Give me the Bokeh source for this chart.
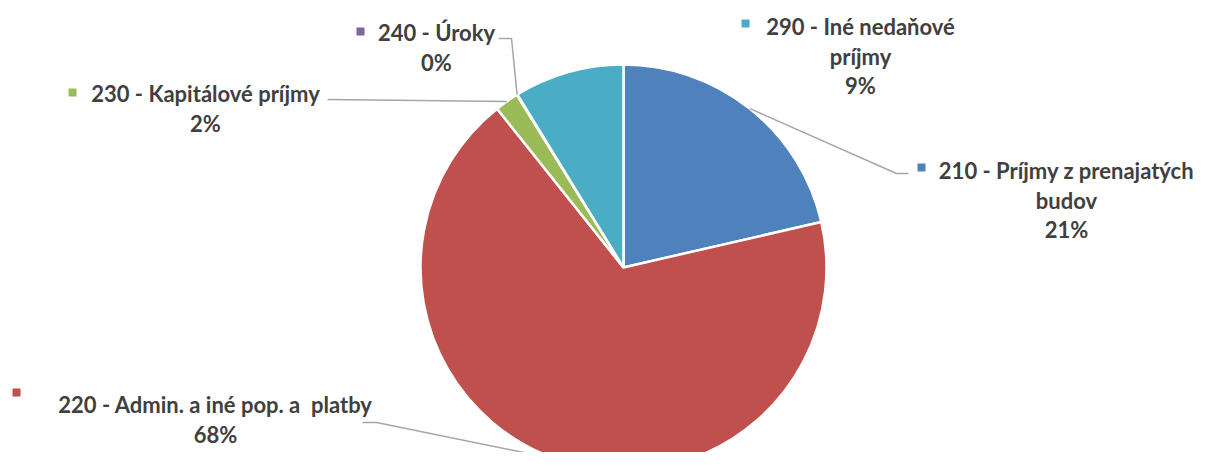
import numpy as np
from bokeh.plotting import figure
from bokeh.models import Range1d, ColumnDataSource
from bokeh.core.properties import value
from bokeh.embed import file_html
from bokeh.resources import INLINE

# ---- data ----
codes = ["210", "220", "230", "240", "290"]
names = ["Príjmy z prenajatých budov", "Admin. a iné pop. a  platby",
         "Kapitálové príjmy", "Úroky", "Iné nedaňové príjmy"]
shares = [21.4, 67.9, 1.9, 0.04, 8.76]
colors = ["#4F81BD", "#C0504D", "#9BBB59", "#8064A2", "#4BACC6"]

# ---- layout (reference pixel coordinates) ----
W, H = 1194, 452
CX, CY, R = 623, 267, 203
FONT = "Lato"
FSIZE = 22
LINE_GAP = 29.5
layout = [
    dict(cx=1066, y0=170, marker=(921, 167), wrap=3, leader=[(896, 173), (908, 173)]),
    dict(cx=215, y0=404, marker=(16, 392), wrap=None, leader=[(376, 422), (362, 422)]),
    dict(cx=205, y0=93, marker=(72, 92), wrap=None, leader=[(327, 99)]),
    dict(cx=436, y0=32, marker=(360, 31), wrap=None, leader=[(511, 38), (498, 38)]),
    dict(cx=860, y0=26, marker=(745, 23), wrap=2, leader=None),
]


def Y(py):
    return H - py


p = figure(width=W, height=H, x_range=Range1d(0, W), y_range=Range1d(0, H),
           output_backend="svg", toolbar_location=None, min_border=0,
           x_axis_location=None, y_axis_location=None)
p.grid.visible = False
p.outline_line_color = None
p.background_fill_color = "white"
p.border_fill_color = "white"

vals = np.array(shares, dtype=float)
frac = vals / vals.sum()
cum = np.concatenate([[0.0], np.cumsum(frac)])
start = np.pi / 2 - 2 * np.pi * cum[:-1]
end = np.pi / 2 - 2 * np.pi * cum[1:]
mid = (start + end) / 2

src = ColumnDataSource(dict(start=start, end=end, color=colors))
p.wedge(x=CX, y=Y(CY), radius=R, start_angle="start", end_angle="end",
        direction="clock", fill_color="color", line_color="white",
        line_width=2.5, source=src)

# leader lines
for i, lay in enumerate(layout):
    if not lay["leader"]:
        continue
    ex = CX + R * np.cos(mid[i])
    ey = Y(CY) + R * np.sin(mid[i])
    xs = [ex] + [pt[0] for pt in lay["leader"]]
    ys = [ey] + [Y(pt[1]) for pt in lay["leader"]]
    p.line(xs, ys, line_color="#A6A6A6", line_width=1.5)

# labels
tx, ty, tt = [], [], []
mx, my, mc = [], [], []
for i, lay in enumerate(layout):
    full = f"{codes[i]} - {names[i]}"
    words = full.split(" ")
    if lay["wrap"] is not None:
        n = lay["wrap"] + 2
        lines = [" ".join(words[:n]), " ".join(words[n:])]
    else:
        lines = [full]
    lines = [ln.replace("  ", " \u00a0") for ln in lines]
    lines.append(f"{round(frac[i] * 100)}%")
    for k, line in enumerate(lines):
        tx.append(lay["cx"])
        ty.append(Y(lay["y0"] + k * LINE_GAP))
        tt.append(line)
    mx.append(lay["marker"][0])
    my.append(Y(lay["marker"][1]))
    mc.append(colors[i])

p.rect(x=mx, y=my, width=8, height=8, width_units="screen", height_units="screen",
       fill_color=mc, line_color=None)
p.text(x=tx, y=ty, text=tt, text_align="center", text_baseline="middle",
       text_font=value(FONT), text_font_style="bold", text_font_size=f"{FSIZE}px",
       text_color="#404040")

open("out.html", "w").write(file_html(p, INLINE))
